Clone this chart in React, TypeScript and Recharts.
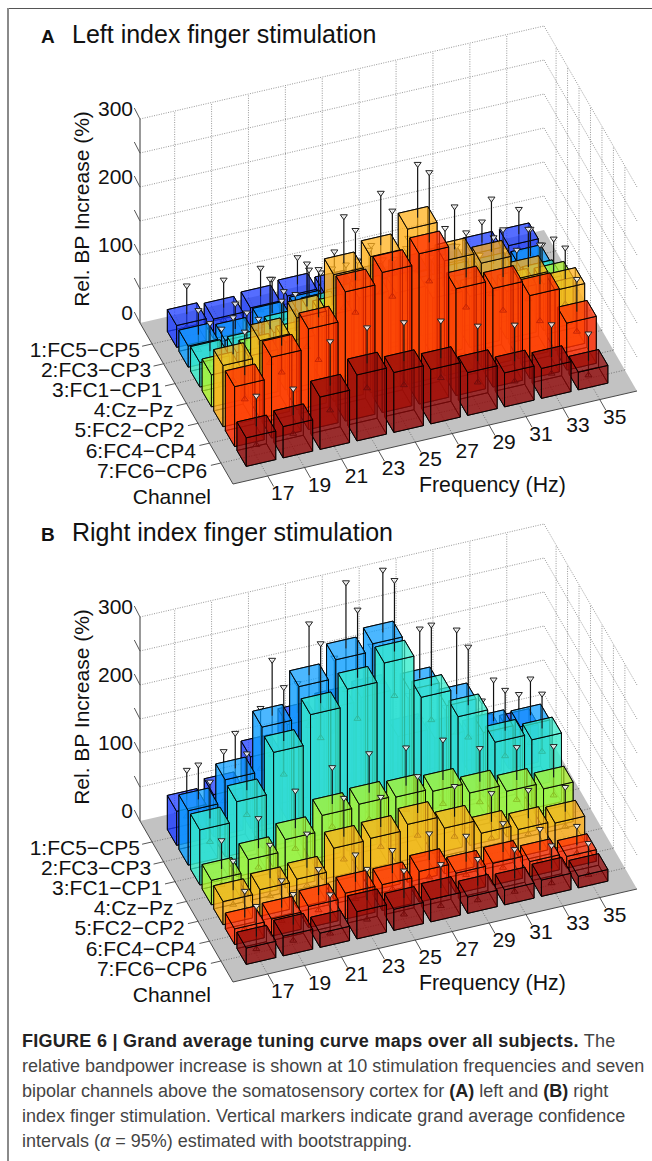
import { ScatterChart, Scatter, XAxis, YAxis } from 'recharts'

const frequencies = [17, 19, 21, 23, 25, 27, 29, 31, 33, 35]
const channels = ['1:FC5−CP5', '2:FC3−CP3', '3:FC1−CP1', '4:Cz−Pz', '5:FC2−CP2', '6:FC4−CP4', '7:FC6−CP6']
const heightTicks = [0, 50, 100, 150, 200, 250, 300]
const heightLabels = [0, 100, 200, 300]
const channelColors = ['#1c3cff', '#0f9fff', '#38eccb', '#aef52e', '#ffb01a', '#ff2c00', '#8f0a0a']

const meanA = [
  [32, 29, 33, 38, 30, 28, 30, 32, 37, 37],
  [31, 27, 38, 42, 40, 38, 35, 35, 35, 34],
  [36, 38, 55, 70, 75, 70, 60, 50, 45, 41],
  [47, 62, 70, 95, 110, 105, 85, 75, 70, 68],
  [90, 114, 135, 186, 200, 228, 169, 153, 118, 88],
  [88, 119, 148, 190, 206, 221, 157, 145, 122, 69],
  [42, 46, 77, 97, 88, 80, 63, 50, 44, 26],
]
const upperA = [
  [75, 71, 76, 79, 75, 72, 70, 72, 69, 75],
  [68, 65, 89, 90, 85, 80, 75, 75, 75, 75],
  [78, 81, 100, 115, 120, 110, 100, 90, 85, 81],
  [99, 101, 125, 150, 165, 155, 130, 120, 115, 119],
  [145, 189, 199, 256, 278, 308, 233, 232, 175, 135],
  [153, 186, 220, 265, 281, 325, 224, 216, 181, 118],
  [88, 86, 143, 151, 146, 136, 116, 105, 93, 67],
]
const lowerA = [
  [12, 10, 12, 14, 12, 10, 10, 12, 14, 14],
  [8, 8, 14, 16, 16, 14, 12, 12, 12, 12],
  [10, 14, 25, 35, 38, 35, 28, 22, 20, 18],
  [15, 30, 35, 55, 65, 60, 48, 40, 38, 35],
  [50, 64, 75, 120, 130, 150, 110, 90, 70, 50],
  [52, 79, 85, 142, 153, 163, 112, 95, 67, 39],
  [14, 18, 40, 60, 52, 50, 31, 20, 19, 4],
]

const meanB = [
  [50, 62, 105, 140, 150, 155, 85, 70, 60, 55],
  [80, 113, 178, 225, 252, 263, 183, 147, 95, 91],
  [81, 110, 170, 213, 238, 264, 201, 160, 110, 101],
  [36, 54, 71, 94, 98, 96, 92, 77, 67, 58],
  [34, 39, 42, 75, 77, 85, 67, 47, 40, 37],
  [23, 25, 31, 38, 38, 45, 30, 32, 22, 17],
  [24, 29, 21, 40, 31, 33, 24, 22, 24, 17],
]
const upperB = [
  [95, 110, 161, 185, 210, 215, 130, 100, 97, 94],
  [132, 166, 261, 302, 350, 356, 257, 243, 157, 146],
  [136, 165, 250, 302, 339, 370, 292, 247, 171, 153],
  [79, 99, 127, 149, 157, 153, 152, 127, 116, 105],
  [78, 89, 93, 133, 122, 140, 113, 90, 82, 74],
  [63, 66, 70, 79, 73, 85, 69, 75, 54, 46],
  [70, 75, 62, 87, 72, 69, 64, 66, 59, 50],
]
const lowerB = [
  [25, 35, 70, 95, 100, 105, 55, 40, 35, 30],
  [40, 70, 120, 150, 190, 190, 125, 90, 55, 50],
  [46, 73, 120, 161, 177, 198, 150, 112, 72, 66],
  [12, 25, 40, 60, 58, 60, 56, 46, 37, 31],
  [12, 12, 15, 41, 47, 51, 37, 22, 16, 14],
  [5, 5, 8, 12, 14, 19, 10, 8, 5, 4],
  [5, 5, 3, 11, 6, 6, 2, 2, 2, 2],
]

// oblique projection of the matlab bar3 view, in px per frequency tick / channel / percent
const F = { x: 36.9, y: -8.5 }
const C = { x: 11.6, y: 19.85 }
const Z = 0.68
const ORIGIN = { x: 140, y: 323 }
const FLOOR_F = { x: 404, y: -93 }
const FLOOR_C = { x: 93, y: 161 }
const FIRST_F = 0.0858
const FIRST_C = 0.13
const BAR = 0.4
const FONT = '"Liberation Sans", Arial, sans-serif'
const CHART_HEIGHT = 525

function project(i: number, c: number) {
  return {
    x: ORIGIN.x + FIRST_F * FLOOR_F.x + FIRST_C * FLOOR_C.x + i * F.x + c * C.x,
    y: ORIGIN.y + FIRST_F * FLOOR_F.y + FIRST_C * FLOOR_C.y + i * F.y + c * C.y,
  }
}

function buildRows(mean: number[][], upper: number[][], lower: number[][]) {
  const rows: any[] = []
  channels.forEach((_, c) => {
    for (let i = frequencies.length - 1; i >= 0; i--) {
      const p = project(i, c)
      rows.push({ px: p.x, py: p.y, mean: mean[c][i], upper: upper[c][i], lower: lower[c][i], color: channelColors[c] })
    }
  })
  return rows
}

const pts = (list: number[][]) => list.map((p) => p.join(',')).join(' ')

function BarShape(props: any) {
  const { cx, cy, payload } = props
  const { mean, upper, lower, color } = payload
  const corner = (a: number, b: number, h: number) => [
    cx + a * F.x + b * C.x,
    cy + a * F.y + b * C.y - h,
  ]
  const h = mean * Z
  const face = (list: number[][], opacity: number) => (
    <polygon points={pts(list)} fill={color} fillOpacity={opacity} stroke="#000" strokeOpacity={0.9} strokeWidth={1} strokeLinejoin="round" />
  )
  const lowY = cy - lower * Z
  const topY = cy - h
  const upY = cy - upper * Z
  const back = 0.22
  const front = 0.76
  return (
    <g>
      {face([corner(-BAR, -BAR, 0), corner(BAR, -BAR, 0), corner(BAR, BAR, 0), corner(-BAR, BAR, 0)], back)}
      {face([corner(-BAR, -BAR, 0), corner(BAR, -BAR, 0), corner(BAR, -BAR, h), corner(-BAR, -BAR, h)], back)}
      {face([corner(BAR, -BAR, 0), corner(BAR, BAR, 0), corner(BAR, BAR, h), corner(BAR, -BAR, h)], back)}
      <line x1={cx} x2={cx} y1={lowY} y2={topY} stroke="#000" strokeWidth={1.1} />
      <polygon points={pts([[cx, lowY - 4], [cx - 3.5, lowY + 1], [cx + 3.5, lowY + 1]])} fill={color} fillOpacity={0.15} stroke="#111" strokeWidth={1} />
      {face([corner(-BAR, -BAR, 0), corner(-BAR, BAR, 0), corner(-BAR, BAR, h), corner(-BAR, -BAR, h)], front)}
      {face([corner(-BAR, BAR, 0), corner(BAR, BAR, 0), corner(BAR, BAR, h), corner(-BAR, BAR, h)], front)}
      {face([corner(-BAR, -BAR, h), corner(BAR, -BAR, h), corner(BAR, BAR, h), corner(-BAR, BAR, h)], 0.68)}
      <line x1={cx} x2={cx} y1={topY} y2={upY} stroke="#111" strokeWidth={1.2} />
      <polygon points={pts([[cx - 3.5, upY - 1], [cx + 3.5, upY - 1], [cx, upY + 4]])} fill="#fff" fillOpacity={0.85} stroke="#222" strokeWidth={1} />
    </g>
  )
}

function Backdrop(props: any) {
  const { cx, cy, payload } = props
  const Ox = cx
  const Oy = cy
  const gridLine = { stroke: '#8c8c8c', strokeWidth: 0.9, strokeDasharray: '1 1.4' }
  const floorGrid = { stroke: '#6e6e6e', strokeWidth: 0.9, strokeDasharray: '1 1.6' }
  const tickStyle = { stroke: '#444', strokeWidth: 0.9 }
  const top = heightTicks[heightTicks.length - 1] * Z
  const bx = Ox + FLOOR_F.x
  const by = Oy + FLOOR_F.y
  const fIdx = frequencies.map((_, i) => FIRST_F + (i * F.x) / FLOOR_F.x)
  const cIdx = channels.map((_, c) => FIRST_C + (c * C.y) / FLOOR_C.y)
  const text = { fontFamily: FONT, fill: '#111' }
  const labelSize = 21
  return (
    <g>
      <polygon
        points={pts([[Ox, Oy], [bx, by], [bx + FLOOR_C.x, by + FLOOR_C.y], [Ox + FLOOR_C.x, Oy + FLOOR_C.y]])}
        fill="#c2c2c2"
      />
      {heightTicks.map((v) => (
        <g key={v}>
          {v > 0 && <line x1={Ox} y1={Oy - v * Z} x2={bx} y2={by - v * Z} {...gridLine} />}
          {v > 0 && <line x1={bx} y1={by - v * Z} x2={bx + FLOOR_C.x} y2={by + FLOOR_C.y - v * Z} {...gridLine} />}
          <line x1={Ox} y1={Oy - v * Z} x2={Ox - 5.7} y2={Oy - v * Z - 11} {...tickStyle} />
        </g>
      ))}
      {fIdx.map((t, i) => (
        <g key={frequencies[i]}>
          <line x1={Ox + t * FLOOR_F.x} y1={Oy + t * FLOOR_F.y} x2={Ox + t * FLOOR_F.x} y2={Oy + t * FLOOR_F.y - top} {...gridLine} />
          <line
            x1={Ox + t * FLOOR_F.x}
            y1={Oy + t * FLOOR_F.y}
            x2={Ox + t * FLOOR_F.x + FLOOR_C.x}
            y2={Oy + t * FLOOR_F.y + FLOOR_C.y}
            {...floorGrid}
          />
          <line
            x1={Ox + t * FLOOR_F.x + FLOOR_C.x}
            y1={Oy + t * FLOOR_F.y + FLOOR_C.y}
            x2={Ox + t * FLOOR_F.x + FLOOR_C.x + 6}
            y2={Oy + t * FLOOR_F.y + FLOOR_C.y + 10.5}
            {...tickStyle}
          />
          <text x={282.7 + i * F.x} y={Oy + 170 + i * F.y + 7} fontSize={labelSize} textAnchor="middle" {...text}>
            {frequencies[i]}
          </text>
        </g>
      ))}
      {cIdx.map((s, c) => (
        <g key={channels[c]}>
          <line x1={bx + s * FLOOR_C.x} y1={by + s * FLOOR_C.y} x2={bx + s * FLOOR_C.x} y2={by + s * FLOOR_C.y - top} {...gridLine} />
          <line
            x1={Ox + s * FLOOR_C.x}
            y1={Oy + s * FLOOR_C.y}
            x2={bx + s * FLOOR_C.x}
            y2={by + s * FLOOR_C.y}
            {...floorGrid}
          />
          <line
            x1={Ox + s * FLOOR_C.x}
            y1={Oy + s * FLOOR_C.y}
            x2={Ox + s * FLOOR_C.x - 10}
            y2={Oy + s * FLOOR_C.y + 2.3}
            {...tickStyle}
          />
          <text x={140 + c * 11.2} y={Oy + 27 + c * 20.1 + 7} fontSize={labelSize} textAnchor="end" {...text}>
            {channels[c]}
          </text>
        </g>
      ))}
      <line x1={Ox} y1={Oy} x2={Ox + FLOOR_C.x} y2={Oy + FLOOR_C.y} stroke="#4a4a4a" strokeWidth={1} />
      <line x1={Ox + FLOOR_C.x} y1={Oy + FLOOR_C.y} x2={bx + FLOOR_C.x} y2={by + FLOOR_C.y} stroke="#4a4a4a" strokeWidth={1} />
      <line x1={Ox} y1={Oy} x2={Ox} y2={Oy - top} stroke="#555" strokeWidth={1.2} />
      {heightLabels.map((v) => (
        <text key={v} x={133} y={Oy - v * Z - 3} fontSize={labelSize} textAnchor="end" {...text}>
          {v}
        </text>
      ))}
      <text transform={`translate(89,${Oy - 114}) rotate(-90)`} fontSize={labelSize} textAnchor="middle" {...text}>
        Rel. BP Increase (%)
      </text>
      <text x={211} y={Oy + 181} fontSize={labelSize} textAnchor="end" {...text}>
        Channel
      </text>
      <text x={419} y={Oy + 169} fontSize={21.3} {...text}>
        Frequency (Hz)
      </text>
      <text x={41} y={Oy - 280} fontSize={19} fontWeight="bold" {...text}>
        {payload.letter}
      </text>
      <text x={72} y={Oy - 280} fontSize={25} {...text}>
        {payload.title}
      </text>
    </g>
  )
}

function Panel({ letter, title, top, mean, upper, lower }: any) {
  return (
    <div style={{ position: 'absolute', left: 0, top }}>
      <ScatterChart width={652} height={CHART_HEIGHT} margin={{ top: 0, right: 0, bottom: 0, left: 0 }}>
        <XAxis type="number" dataKey="px" domain={[0, 652]} hide />
        <YAxis type="number" dataKey="py" domain={[0, CHART_HEIGHT]} reversed hide />
        <Scatter data={[{ px: ORIGIN.x, py: ORIGIN.y, letter, title }]} shape={<Backdrop />} isAnimationActive={false} />
        <Scatter data={buildRows(mean, upper, lower)} shape={<BarShape />} isAnimationActive={false} />
      </ScatterChart>
    </div>
  )
}

const captionStyle: React.CSSProperties = {
  position: 'absolute',
  left: 22,
  fontFamily: FONT,
  fontSize: 18,
  color: '#444',
  whiteSpace: 'nowrap',
}
const boldStyle = { color: '#222' }

export default function App() {
  return (
    <div style={{ position: 'absolute', left: 0, top: 0, width: 652, height: 1161, background: '#fff', overflow: 'hidden' }}>
      <div style={{ position: 'absolute', left: 7, top: 8, right: 0, height: 1, background: '#555' }} />
      <div style={{ position: 'absolute', left: 7, top: 8, bottom: 0, width: 2, background: '#8a8a8a' }} />
      <Panel letter="A" title="Left index finger stimulation" top={0} mean={meanA} upper={upperA} lower={lowerA} />
      <Panel letter="B" title="Right index finger stimulation" top={498} mean={meanB} upper={upperB} lower={lowerB} />
      <div style={{ ...captionStyle, top: 1031, letterSpacing: 0.27 }}>
        <b style={boldStyle}>FIGURE 6 | Grand average tuning curve maps over all subjects.</b> The
      </div>
      <div style={{ ...captionStyle, top: 1056 }}>relative bandpower increase is shown at 10 stimulation frequencies and seven</div>
      <div style={{ ...captionStyle, top: 1081 }}>
        bipolar channels above the somatosensory cortex for <b style={boldStyle}>(A)</b> left and <b style={boldStyle}>(B)</b> right
      </div>
      <div style={{ ...captionStyle, top: 1106 }}>index finger stimulation. Vertical markers indicate grand average confidence</div>
      <div style={{ ...captionStyle, top: 1131 }}>
        intervals (<i>α</i> = 95%) estimated with bootstrapping.
      </div>
    </div>
  )
}
